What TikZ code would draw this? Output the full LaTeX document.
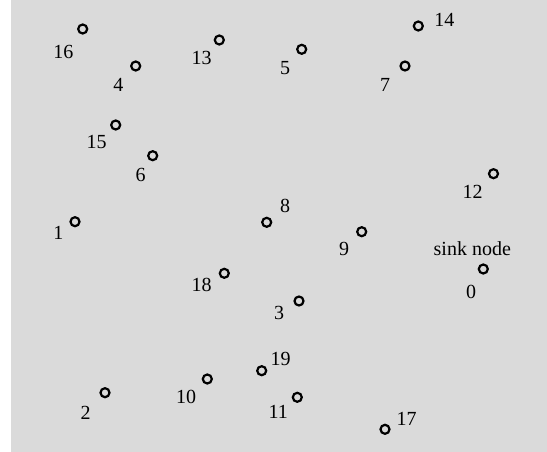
\documentclass[tikz,border=0pt]{standalone}
\usepackage{fontspec}
\setmainfont{Liberation Serif}
\usepackage{xcolor}
\definecolor{fieldgray}{RGB}{218,218,218}

\begin{document}
\begin{tikzpicture}[x=1pt, y=-1pt,
  sensor/.style={circle, draw, line width=2.2pt, minimum size=9pt, inner sep=0pt},
  lbl/.style={inner sep=0pt, font=\fontsize{20}{24}\selectfont}]
\useasboundingbox (0,0) rectangle (547,452);
\fill[fieldgray] (11,0) rectangle (547,452);
% sensor nodes and their numbers
\foreach \k/\x/\y/\lx/\ly in {0/483.3/269/471/291.7, 1/75/221.7/58.3/232.7,
  2/105/392.7/85.7/412.7, 3/299/301/279/312.7, 4/135.7/66/118.3/85,
  5/301.7/49.3/285/68.3, 6/152.7/155.7/140.7/175, 7/405/66/385/85,
  8/266.7/222.3/285/205.7, 9/361.7/231.7/344/249.3, 10/207.3/379/186/397.3,
  11/297.3/397.3/278.3/412.3, 12/493.5/173.7/472.6/191.5, 13/219.3/40/201.7/58.3,
  14/418.3/26/444.3/20, 15/115.7/125/96.7/142.3, 16/82.7/29/63.3/52.3,
  17/385/429.3/406.7/419, 18/224.3/273.3/201.7/285, 19/261.7/370.7/280.5/359}{
  \node[sensor] (n\k) at (\x,\y) {};
  \node[lbl] (l\k) at (\lx,\ly) {\k};
}
\node[lbl] (sink) at (472.3,249) {sink node};
\end{tikzpicture}
\end{document}
